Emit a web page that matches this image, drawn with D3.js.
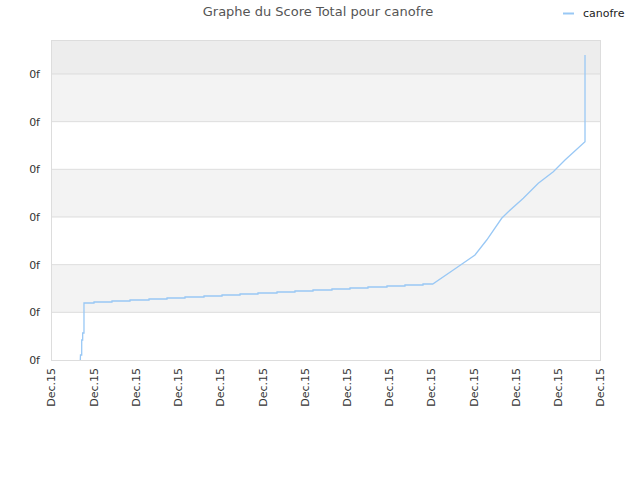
<!DOCTYPE html>
<html>
<head>
<meta charset="utf-8">
<script src="https://cdn.jsdelivr.net/npm/d3@7"></script>
<style>
  body { margin: 0; background: #fff; }
  text { font-family: 'DejaVu Sans', sans-serif; }
</style>
</head>
<body>
<svg id="chart" width="640" height="480"></svg>
<script>
// x positions in tick units (14 ticks, all "Dec.15"), scores in gridline units
const dates = [
  0.694, 0.698, 0.727, 0.727, 0.750, 0.750, 0.781, 0.781,
  1.018, 1.018, 1.444, 1.444, 1.871, 1.871, 2.321, 2.321,
  2.747, 2.747, 3.173, 3.173, 3.623, 3.623, 4.050, 4.050,
  4.476, 4.476, 4.901, 4.901, 5.352, 5.352, 5.777, 5.777,
  6.204, 6.204, 6.653, 6.653, 7.080, 7.080, 7.506, 7.506,
  7.956, 7.956, 8.382, 8.382, 8.809, 8.809, 9.039,
  9.526, 10.040, 10.317, 10.672, 10.829, 11.184, 11.539, 11.894, 12.171, 12.645, 12.645
]
const scores = [
  0, 0.105, 0.105, 0.42, 0.42, 0.566, 0.566, 1.196,
  1.196, 1.217, 1.217, 1.238, 1.238, 1.259, 1.259, 1.280,
  1.280, 1.301, 1.301, 1.322, 1.322, 1.343, 1.343, 1.364,
  1.364, 1.385, 1.385, 1.406, 1.406, 1.426, 1.426, 1.447,
  1.447, 1.468, 1.468, 1.489, 1.489, 1.510, 1.510, 1.531,
  1.531, 1.552, 1.552, 1.573, 1.573, 1.594, 1.594,
  1.888, 2.203, 2.517, 2.973, 3.111, 3.392, 3.707, 3.950, 4.196, 4.580, 6.398
]
const xTicks = d3.range(0, 14)
const xTickLabels = xTicks.map(() => 'Dec.15')
const yTicks = d3.range(0, 7)
const yTickLabels = yTicks.map(() => '0f')
const seriesName = 'canofre'
const title = 'Graphe du Score Total pour canofre'

const margin = { top: 40, right: 40, bottom: 120, left: 51 }
const width = 640
const height = 480
const innerW = width - margin.left - margin.right
const innerH = height - margin.top - margin.bottom

const svg = d3.select('#chart')

const x = d3.scaleLinear().domain([0, 13]).range([margin.left, margin.left + innerW])
const y = d3.scaleLinear().domain([0, 6.713]).range([margin.top + innerH, margin.top])

const plot = svg.append('g')

// background bands
plot.append('rect')
  .attr('x', x(0)).attr('y', y(6.713))
  .attr('width', innerW).attr('height', y(6) - y(6.713))
  .attr('fill', '#ededed')
plot.selectAll('rect.band')
  .data([1, 3, 5])
  .join('rect')
  .attr('class', 'band')
  .attr('x', x(0))
  .attr('y', (d) => y(d + 1))
  .attr('width', innerW)
  .attr('height', (d) => y(d) - y(d + 1))
  .attr('fill', '#f3f3f3')

// gridlines
plot.selectAll('line.grid')
  .data(yTicks.slice(1))
  .join('line')
  .attr('class', 'grid')
  .attr('x1', x(0)).attr('x2', x(13))
  .attr('y1', (d) => y(d)).attr('y2', (d) => y(d))
  .attr('stroke', '#dddddd')

// frame
plot.append('rect')
  .attr('x', x(0) + 0.5).attr('y', margin.top + 0.5)
  .attr('width', innerW).attr('height', innerH)
  .attr('fill', 'none')
  .attr('stroke', '#dddddd')

// y axis
const yAxis = d3.axisLeft(y)
  .tickValues(yTicks)
  .tickFormat((d, i) => yTickLabels[i])
  .tickSize(0)
  .tickPadding(11)
svg.append('g')
  .attr('transform', `translate(${margin.left},0)`)
  .call(yAxis)
  .call((g) => g.select('.domain').remove())
  .call((g) => g.selectAll('text')
    .attr('fill', '#333')
    .style('font-size', '11px')
    .style('font-family', "'DejaVu Sans', sans-serif"))

// x axis
const xAxis = d3.axisBottom(x)
  .tickValues(xTicks)
  .tickFormat((d, i) => xTickLabels[i])
  .tickSize(0)
svg.append('g')
  .attr('transform', `translate(0,${margin.top + innerH})`)
  .call(xAxis)
  .call((g) => g.select('.domain').remove())
  .call((g) => g.selectAll('text')
    .attr('fill', '#333')
    .attr('transform', 'rotate(-90)')
    .attr('x', -8)
    .attr('y', 0)
    .attr('dy', '0.35em')
    .attr('text-anchor', 'end')
    .style('font-size', '11px')
    .style('font-family', "'DejaVu Sans', sans-serif"))

// line
const line = d3.line()
  .x((d) => x(d[0]))
  .y((d) => y(d[1]))
svg.append('path')
  .datum(dates.map((d, i) => [d, scores[i]]))
  .attr('d', line)
  .attr('fill', 'none')
  .attr('stroke', '#99c8f5')
  .attr('stroke-width', 1.3)

// title
svg.append('text')
  .attr('x', 318).attr('y', 16)
  .attr('text-anchor', 'middle')
  .attr('fill', '#555')
  .style('font-size', '13px')
  .text(title)

// legend
svg.append('line')
  .attr('x1', 563).attr('x2', 574)
  .attr('y1', 13.5).attr('y2', 13.5)
  .attr('stroke', '#99c8f5')
  .attr('stroke-width', 2)
svg.append('text')
  .attr('x', 583).attr('y', 17)
  .attr('fill', '#222')
  .style('font-size', '11px')
  .text(seriesName)
</script>
</body>
</html>
